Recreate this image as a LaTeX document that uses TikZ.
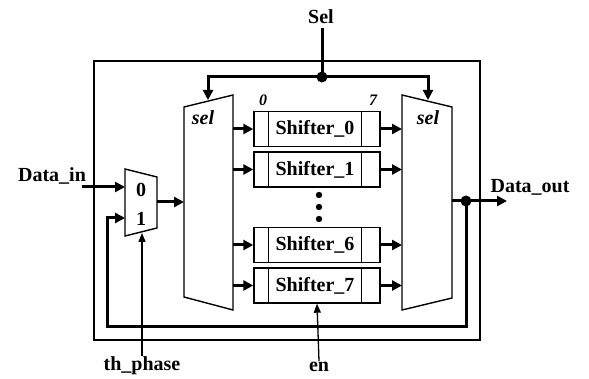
\documentclass[tikz,border=0pt]{standalone}
\usepackage{fontspec}
\setmainfont{Liberation Serif}
\usetikzlibrary{arrows.meta}
\tikzset{
  bus/.style={line width=3pt, -{Triangle[length=10pt,width=10pt]}},
  wire/.style={line width=1.3pt, -{Triangle[length=9pt,width=7pt]}},
  blk/.style={draw, line width=1.4pt},
  shbox/.style={draw, line width=1.4pt, minimum width=126pt, minimum height=35pt, inner sep=0pt,
    font=\fontsize{20}{20}\selectfont\bfseries},
  lbl/.style={font=\fontsize{20}{20}\selectfont\bfseries, inner sep=1pt},
  sellbl/.style={font=\fontsize{20}{20}\selectfont\bfseries\itshape, inner sep=1pt},
  idx/.style={font=\fontsize{16}{16}\selectfont\bfseries\itshape, inner sep=1pt},
}
\begin{document}
\begin{tikzpicture}[x=1pt,y=-1pt]
  \useasboundingbox (0,0) rectangle (589,379);
  % frame
  \draw[line width=2.5pt] (94,61) rectangle (480,340);
  % the three muxes
  \draw[blk] (184,107) -- (233,95) -- (233,310) -- (184,297) -- cycle;
  \draw[blk] (402,95) -- (452,107) -- (452,298) -- (402,310) -- cycle;
  \draw[blk] (125,169) -- (157,177) -- (157,228) -- (125,236) -- cycle;
  \coordinate (lmR) at (233,200);
  \coordinate (rmL) at (402,200);
  \node[sellbl] (lsel) at (203,118) {sel};
  \node[sellbl] (rsel) at (428,118) {sel};
  \node[lbl] (m0) at (141,190) {0};
  \node[lbl] (m1) at (141,219) {1};
  % shifters
  \foreach \i/\y in
    {
        0/129, 1/169.5, 6/245, 7/285.5
    }
    {
        \node[shbox] (sh\i) at (317,\y) {\hspace*{-4pt}Shifter\_\i};
        \draw[line width=1.4pt] ([xshift=15pt]sh\i.north west) -- ([xshift=15pt]sh\i.south west);
        \draw[line width=1.4pt] ([xshift=-19pt]sh\i.north east) -- ([xshift=-19pt]sh\i.south east);
        \draw[bus] (lmR |- sh\i.west) -- (sh\i.west);
        \draw[bus] (sh\i.east) -- (rmL |- sh\i.east);
    }
  \node[idx] (b0) at (263,100) {0};
  \node[idx] (b7) at (373,100) {7};
  \foreach \y in {195,207,219}
    {
        \fill (319,\y) circle (3.2pt);
    }
  % select bus
  \node[lbl] (sel) at (321,17) {Sel};
  \coordinate (selj) at (322,77);
  \draw[line width=3pt] (sel.south) ++(1,3) -- (selj);
  \draw[bus] (selj) -| (208,100);
  \draw[bus] (selj) -| (428,100);
  \fill (selj) circle (5.5pt);
  % data in
  \node[lbl] (din) at (52,176) {Data\_in};
  \coordinate (dinS) at (82,187);
  \draw[bus] (dinS) -- (125,187);
  \draw[bus] (157,202) -- (184,202);
  % data out and loop back
  \node[lbl] (dout) at (530,187) {Data\_out};
  \coordinate (dj) at (466,201);
  \draw[bus] (452,201) -- (507,201);
  \draw[bus] (dj) |- (107,327) |- (125,218);
  \fill (dj) circle (5.5pt);
  % control inputs
  \node[lbl] (thp) at (142,366) {th\_phase};
  \draw[wire] (thp.north) -- (142,233);
  \node[lbl] (en) at (319,367) {en};
  \draw[wire] (en.north) -- (sh7.south);
\end{tikzpicture}
\end{document}
